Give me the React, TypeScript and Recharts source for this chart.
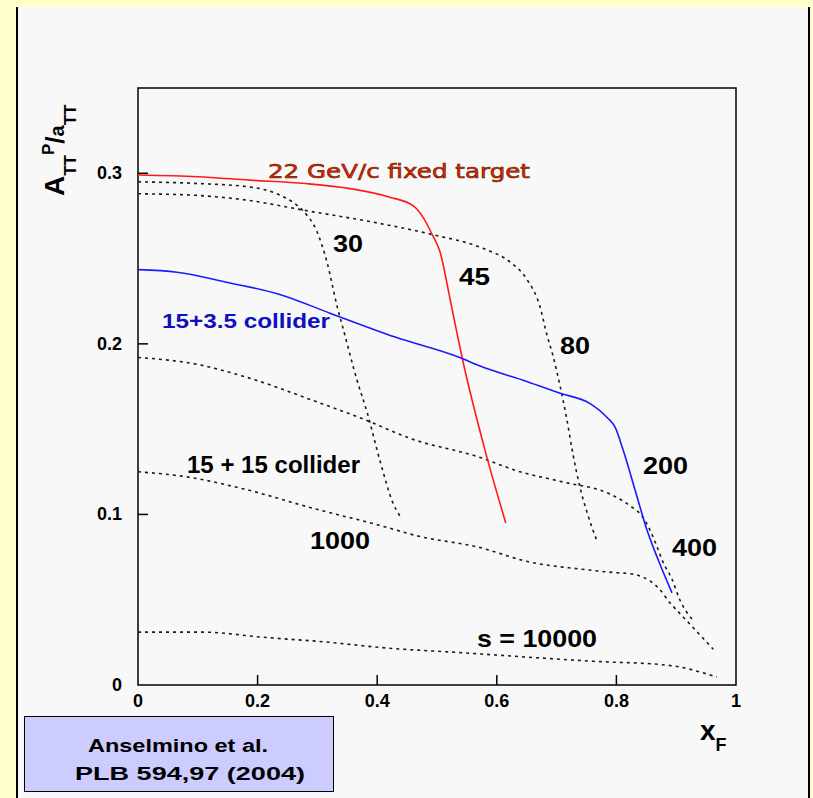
import { LineChart, Line, XAxis, YAxis, ReferenceArea } from "recharts";

// x_F positions and A_TT values, one pair of arrays per curve
const s30X = [0, 0.1, 0.187, 0.232, 0.259, 0.276, 0.299, 0.316, 0.333, 0.343, 0.366, 0.383, 0.405, 0.426, 0.438];
const s30Y = [0.295, 0.294, 0.292, 0.288, 0.283, 0.278, 0.266, 0.248, 0.222, 0.209, 0.179, 0.16, 0.131, 0.107, 0.099];

const s45X = [0, 0.1, 0.187, 0.28, 0.355, 0.421, 0.46, 0.477, 0.492, 0.505, 0.522, 0.533, 0.542, 0.58, 0.615];
const s45Y = [0.299, 0.298, 0.296, 0.294, 0.291, 0.286, 0.281, 0.274, 0.264, 0.254, 0.226, 0.207, 0.192, 0.138, 0.095];

const s80X = [0, 0.1, 0.187, 0.283, 0.383, 0.493, 0.577, 0.622, 0.65, 0.672, 0.684, 0.694, 0.706, 0.717, 0.727, 0.739, 0.752, 0.768];
const s80Y = [0.288, 0.287, 0.284, 0.278, 0.272, 0.264, 0.256, 0.248, 0.238, 0.222, 0.205, 0.193, 0.175, 0.156, 0.136, 0.116, 0.1, 0.084];

const s200X = [0, 0.065, 0.15, 0.237, 0.321, 0.43, 0.538, 0.572, 0.65, 0.706, 0.756, 0.784, 0.798, 0.811, 0.834, 0.85, 0.868, 0.893];
const s200Y = [0.2435, 0.242, 0.236, 0.229, 0.218, 0.204, 0.192, 0.187, 0.178, 0.171, 0.165, 0.157, 0.151, 0.138, 0.111, 0.092, 0.075, 0.054];

const s400X = [0, 0.099, 0.176, 0.299, 0.376, 0.46, 0.567, 0.639, 0.711, 0.789, 0.823, 0.843, 0.856, 0.868, 0.878, 0.893, 0.906, 0.928];
const s400Y = [0.192, 0.188, 0.181, 0.166, 0.156, 0.144, 0.134, 0.125, 0.119, 0.112, 0.105, 0.099, 0.091, 0.081, 0.072, 0.062, 0.05, 0.038];

const s1000X = [0, 0.082, 0.176, 0.299, 0.4, 0.472, 0.567, 0.656, 0.739, 0.794, 0.828, 0.856, 0.87, 0.89, 0.906, 0.962];
const s1000Y = [0.125, 0.122, 0.115, 0.103, 0.094, 0.087, 0.081, 0.072, 0.068, 0.066, 0.065, 0.061, 0.057, 0.048, 0.042, 0.021];

const s10000X = [0, 0.109, 0.209, 0.321, 0.405, 0.538, 0.773, 0.873, 0.906, 0.94, 0.968];
const s10000Y = [0.031, 0.031, 0.028, 0.025, 0.022, 0.019, 0.0137, 0.012, 0.0106, 0.0076, 0.0047];

const xTicks = [0, 0.2, 0.4, 0.6, 0.8, 1];
const yTicks = [0, 0.1, 0.2, 0.3];

const toPoints = (xs: number[], ys: number[]) => xs.map((x, i) => ({ x, y: ys[i] }));

const FONT = "'Liberation Sans', Arial, sans-serif";
const DOTTED = { stroke: "#1a1a1a", strokeWidth: 1.6, strokeDasharray: "3 4" };

const XTick = (props: any) => {
  const { x, y, payload } = props;
  const v = payload.value;
  return (
    <g>
      {v !== 0 && v !== 1 && <line x1={x} x2={x} y1={y} y2={y - 10} stroke="#000" strokeWidth={1.5} />}
      <text x={x} y={y + 22} textAnchor="middle" fontFamily={FONT} fontWeight="bold" fontSize={18} fill="#000">
        {String(v)}
      </text>
    </g>
  );
};

const YTick = (props: any) => {
  const { x, y, payload } = props;
  const v = payload.value;
  return (
    <g>
      {v !== 0 && <line x1={x} x2={x + 10} y1={y} y2={y} stroke="#000" strokeWidth={1.5} />}
      <text x={x - 16} y={y + 6} textAnchor="end" fontFamily={FONT} fontWeight="bold" fontSize={18} fill="#000">
        {String(v)}
      </text>
    </g>
  );
};

// curve annotations, placed in page pixels
const labels = [
  { t: "30", x: 333, y: 252, w: 30 },
  { t: "45", x: 459, y: 285, w: 31 },
  { t: "80", x: 560, y: 354, w: 30 },
  { t: "200", x: 643, y: 474, w: 45 },
  { t: "400", x: 672, y: 556, w: 45 },
  { t: "1000", x: 310, y: 549, w: 60 },
  { t: "s = 10000", x: 477, y: 647, w: 120 },
  { t: "15 + 15 collider", x: 187, y: 473, w: 173 },
];

export default function App() {
  return (
    <div style={{ position: "absolute", left: 0, top: 0, width: 813, height: 798, background: "#ffffcc", overflow: "hidden" }}>
      <div
        style={{
          position: "absolute",
          left: 16,
          top: 7,
          width: 790,
          height: 791,
          background: "#f8f8f8",
          borderLeft: "2px solid #000",
          borderRight: "2px solid #000",
        }}
      />
      <div
        style={{
          position: "absolute",
          left: 24,
          top: 716,
          width: 308,
          height: 74,
          background: "#ccccff",
          border: "1.5px solid #000",
        }}
      />
      <div style={{ position: "absolute", left: 0, top: 0 }}>
        <LineChart width={813} height={798} margin={{ top: 88, right: 77, bottom: 0, left: 0 }}>
          <XAxis
            type="number"
            dataKey="x"
            domain={[0, 1]}
            ticks={xTicks}
            height={113}
            axisLine={false}
            tickLine={false}
            tickSize={0}
            tickMargin={0}
            tick={XTick}
            interval={0}
          />
          <YAxis
            type="number"
            dataKey="y"
            domain={[0, 0.35]}
            ticks={yTicks}
            width={138}
            axisLine={false}
            tickLine={false}
            tickSize={0}
            tickMargin={0}
            tick={YTick}
            interval={0}
            allowDataOverflow
          />
          <ReferenceArea x1={0} x2={1} y1={0} y2={0.35} fill="none" stroke="#000" strokeWidth={1.5} fillOpacity={0} />
          <Line data={toPoints(s30X, s30Y)} dataKey="y" type="monotone" dot={false} isAnimationActive={false} {...DOTTED} />
          <Line data={toPoints(s80X, s80Y)} dataKey="y" type="monotone" dot={false} isAnimationActive={false} {...DOTTED} />
          <Line data={toPoints(s400X, s400Y)} dataKey="y" type="monotone" dot={false} isAnimationActive={false} {...DOTTED} />
          <Line data={toPoints(s1000X, s1000Y)} dataKey="y" type="monotone" dot={false} isAnimationActive={false} {...DOTTED} />
          <Line data={toPoints(s10000X, s10000Y)} dataKey="y" type="monotone" dot={false} isAnimationActive={false} {...DOTTED} />
          <Line data={toPoints(s45X, s45Y)} dataKey="y" type="monotone" dot={false} isAnimationActive={false} stroke="#ff1a1a" strokeWidth={1.6} />
          <Line data={toPoints(s200X, s200Y)} dataKey="y" type="monotone" dot={false} isAnimationActive={false} stroke="#1a1aff" strokeWidth={1.6} />
        </LineChart>
      </div>
      <svg width={813} height={798} style={{ position: "absolute", left: 0, top: 0, pointerEvents: "none" }}>
        <g fontFamily={FONT} fontWeight="bold">
          {labels.map((l) => (
            <text key={l.t} x={l.x} y={l.y} fontSize={24} textLength={l.w} lengthAdjust="spacingAndGlyphs" fill="#000">
              {l.t}
            </text>
          ))}
          <text x={162} y={328} fontSize={20} textLength={168} lengthAdjust="spacingAndGlyphs" fill="#1010c0">
            15+3.5 collider
          </text>
        </g>
        <text
          x={268}
          y={178}
          fontFamily="'DejaVu Sans', sans-serif"
          fontSize={20}
          textLength={262}
          lengthAdjust="spacingAndGlyphs"
          fill="#e02a00"
          stroke="#6a1800"
          strokeWidth={0.6}
        >
          22 GeV/c fixed target
        </text>
        <text transform="translate(64,196) rotate(-90)" fontFamily={FONT} fontWeight="bold" fill="#000">
          <tspan fontSize={28}>A</tspan>
          <tspan fontSize={17} dy={12}>TT</tspan>
          <tspan fontSize={17} dy={-22}>P</tspan>
          <tspan fontSize={26} dy={10}>/</tspan>
          <tspan fontSize={20}>a</tspan>
          <tspan fontSize={17} dy={12}>TT</tspan>
        </text>
        <text x={700} y={740} fontFamily={FONT} fontWeight="bold" fill="#000">
          <tspan fontSize={28}>x</tspan>
          <tspan fontSize={18} dy={11}>F</tspan>
        </text>
        <g fontFamily={FONT} fontWeight="bold" fill="#000" fontSize={19}>
          <text x={88} y={752} textLength={180} lengthAdjust="spacingAndGlyphs">Anselmino et al.</text>
          <text x={75} y={780} textLength={230} lengthAdjust="spacingAndGlyphs">PLB 594,97 (2004)</text>
        </g>
      </svg>
    </div>
  );
}
